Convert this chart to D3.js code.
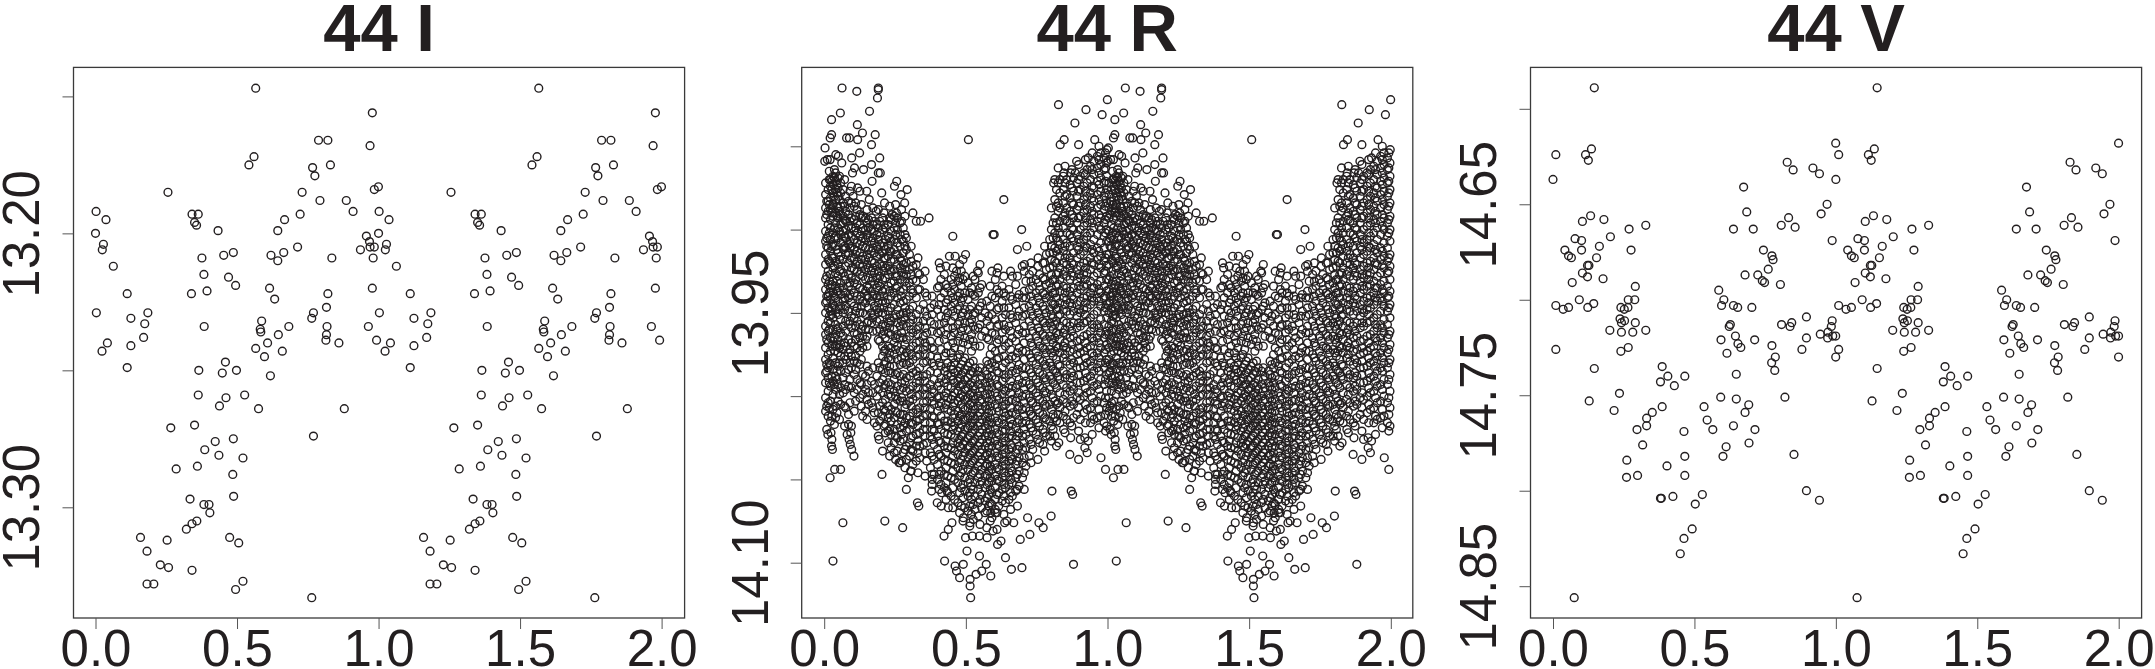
<!DOCTYPE html>
<html><head><meta charset="utf-8">
<script src="https://cdn.jsdelivr.net/npm/d3@7/dist/d3.min.js"></script>
<style>html,body{margin:0;padding:0;background:#fff;overflow:hidden}svg{display:block}</style>
</head><body><svg id="c" width="2155" height="669"></svg>
<script>
const xTicks=[0,0.5,1,1.5,2];
const titles=["44 I","44 R","44 V"];
const yTicksI=[13.15,13.20,13.25,13.30];
const yLabelsI=[13.20,13.30];
const yTicksR=[13.85,13.90,13.95,14.00,14.05,14.10];
const yLabelsR=[13.95,14.10];
const yTicksV=[14.60,14.65,14.70,14.75,14.80,14.85];
const yLabelsV=[14.65,14.75,14.85];
const pointsI=[[.002,13.192],[.037,13.195],[0,13.2],[.028,13.204],[.024,13.206],[.063,13.212],[.112,13.222],[.003,13.229],[.185,13.229],[.125,13.231],[.174,13.233],[.17,13.238],[.042,13.24],[.023,13.243],[.125,13.241],[.112,13.249],[.256,13.185],[.341,13.193],[.363,13.193],[.35,13.196],[.357,13.197],[.433,13.199],[.453,13.208],[.487,13.207],[.376,13.209],[.383,13.215],[.47,13.216],[.495,13.219],[.339,13.222],[.394,13.221],[.384,13.234],[.365,13.25],[.459,13.247],[.448,13.251],[.498,13.25],[.363,13.259],[.461,13.26],[.527,13.259],[.438,13.263],[.576,13.264],[.35,13.27],[.266,13.271],[.423,13.276],[.487,13.275],[.386,13.279],[.436,13.281],[.521,13.282],[.285,13.286],[.36,13.285],[.485,13.288],[.488,13.296],[.334,13.297],[.383,13.299],[.401,13.299],[.404,13.302],[.358,13.305],[.341,13.306],[.321,13.308],[.159,13.311],[.253,13.312],[.474,13.311],[.506,13.313],[.182,13.316],[.229,13.321],[.258,13.322],[.341,13.323],[.182,13.328],[.206,13.328],[.521,13.327],[.495,13.33],[.764,13.333],[.566,13.147],[.56,13.172],[.542,13.175],[.788,13.166],[.821,13.166],[.83,13.175],[.767,13.176],[.775,13.179],[.73,13.185],[.793,13.188],[.723,13.193],[.668,13.195],[.644,13.199],[.714,13.205],[.665,13.207],[.62,13.208],[.644,13.21],[.835,13.209],[.615,13.22],[.633,13.224],[.821,13.222],[.816,13.227],[.77,13.229],[.764,13.231],[.587,13.232],[.582,13.235],[.584,13.236],[.683,13.234],[.818,13.234],[.646,13.237],[.816,13.237],[.814,13.239],[.608,13.24],[.86,13.24],[.566,13.242],[.66,13.243],[.597,13.245],[.618,13.252],[.879,13.264],[.77,13.274],[.886,13.188],[.91,13.192],[.978,13.156],[.97,13.168],[.985,13.184],[.9995,13.183],[.957,13.201],[.968,13.203],[.97,13.205],[.985,13.205],[.936,13.206],[.981,13.209],[.978,13.22],[.964,13.234],[.993,13.239]];
const pointsV=[[0,14.637],[.01,14.624],[.115,14.624],[.125,14.627],[.136,14.621],[.146,14.589],[.133,14.656],[.104,14.659],[.18,14.658],[.203,14.667],[.078,14.668],[.101,14.669],[.164,14.672],[.042,14.674],[.101,14.674],[.055,14.677],[.065,14.678],[.154,14.678],[.122,14.682],[.127,14.682],[.104,14.686],[.122,14.688],[.177,14.689],[.068,14.691],[.269,14.663],[.328,14.661],[.276,14.674],[.291,14.693],[.093,14.7],[.266,14.7],[.289,14.7],[.01,14.703],[.144,14.702],[.036,14.705],[.055,14.704],[.123,14.704],[.24,14.704],[.265,14.704],[.252,14.705],[.237,14.71],[.253,14.711],[.242,14.712],[.291,14.712],[.201,14.716],[.242,14.717],[.282,14.717],[.328,14.716],[.01,14.726],[.24,14.727],[.266,14.725],[.146,14.736],[.128,14.753],[.235,14.749],[.216,14.758],[.386,14.735],[.406,14.74],[.38,14.743],[.429,14.745],[.466,14.74],[.386,14.756],[.351,14.759],[.331,14.762],[.331,14.766],[.297,14.768],[.317,14.776],[.261,14.784],[.26,14.793],[.299,14.792],[.403,14.787],[.463,14.769],[.466,14.782],[.466,14.792],[.38,14.804],[.383,14.804],[.424,14.803],[.503,14.807],[.528,14.802],[.492,14.82],[.463,14.825],[.45,14.833],[.075,14.856],[.534,14.756],[.545,14.763],[.565,14.768],[.593,14.751],[.648,14.752],[.692,14.755],[.679,14.759],[.638,14.766],[.714,14.768],[.693,14.775],[.612,14.777],[.601,14.782],[.586,14.695],[.604,14.7],[.596,14.703],[.638,14.703],[.653,14.704],[.703,14.704],[.623,14.714],[.627,14.713],[.645,14.719],[.594,14.721],[.713,14.721],[.654,14.723],[.664,14.725],[.615,14.728],[.648,14.739],[.674,14.641],[.685,14.654],[.638,14.663],[.708,14.663],[.744,14.674],[.774,14.677],[.778,14.679],[.761,14.684],[.679,14.687],[.724,14.687],[.74,14.69],[.748,14.691],[.804,14.692],[.807,14.661],[.833,14.657],[.856,14.662],[.828,14.628],[.849,14.632],[.919,14.631],[.942,14.634],[.9995,14.618],[.969,14.65],[.948,14.655],[.987,14.669],[.808,14.713],[.844,14.712],[.838,14.714],[.896,14.709],[.774,14.724],[.896,14.72],[.786,14.73],[.773,14.733],[.784,14.737],[.88,14.726],[.945,14.718],[.972,14.717],[.987,14.711],[.984,14.714],[.971,14.72],[.989,14.719],[.9995,14.719],[.9995,14.73],[.82,14.751],[.852,14.781],[.896,14.8],[.942,14.805]];
const outliersR=[[.063,13.815],[.115,13.817],[.191,13.815],[.191,13.816],[.188,13.821],[.16,13.829],[.057,13.83],[.026,13.834],[.117,13.837],[.026,13.843],[.021,13.845],[.079,13.845],[.089,13.845],[.118,13.846],[.135,13.842],[.18,13.843],[.003,13.851],[.167,13.849],[.125,13.854],[.097,13.857],[.041,13.855],[.05,13.856],[.196,13.857],[.011,13.858],[.021,13.858],[.002,13.859],[.062,13.86],[.167,13.861],[.139,13.864],[.107,13.863],[.1,13.866],[.191,13.866],[.198,13.866],[.256,13.871],[.248,13.874],[.293,13.876],[.271,13.879],[.284,13.884],[.169,13.871],[.096,13.874],[.118,13.875],[.126,13.877],[.15,13.877],[.102,13.88],[.159,13.882],[.203,13.878],[.213,13.884],[.183,13.889],[.24,13.891],[.313,13.89],[.325,13.895],[.34,13.895],[.37,13.893],[.255,13.89],[.454,13.904],[.596,13.903],[.6,13.903],[.634,13.882],[.509,13.846],[.697,13.9],[.682,13.912],[.715,13.91],[.499,13.915],[.442,13.916],[.462,13.916],[.41,13.923],[.467,13.925],[.613,13.923],[.592,13.925],[.541,13.925],[.699,13.922],[.707,13.921],[.755,13.917],[.827,13.825],[.9995,13.822],[.924,13.828],[.981,13.831],[.885,13.836],[.955,13.846],[.833,13.849],[.847,13.846],[.898,13.849],[.998,13.852],[.932,13.857],[.891,13.859],[.846,13.866],[.87,13.866],[.886,13.866],[.81,13.872],[.031,14.099],[.021,14.049],[.037,14.044],[.058,14.044],[.066,14.076],[.214,14.075],[.277,14.079],[.204,14.047],[.206,14.033],[.194,14.026],[.026,14.03],[.029,14.032],[.013,14.023],[.024,14.022],[.094,14.022],[.081,14.023],[.088,14.026],[.092,14.029],[.097,14.032],[.105,14.036],[.264,14.04],[.268,14.04],[.305,14.045],[.297,14.049],[.29,14.056],[.329,14.064],[.334,14.066],[.381,14.05],[.379,14.057],[.399,14.064],[.415,14.058],[.434,14.057],[.413,14.066],[.438,14.067],[.423,14.084],[.438,14.08],[.451,14.076],[.425,14.099],[.462,14.102],[.467,14.105],[.478,14.109],[.491,14.101],[.504,14.093],[.515,14.11],[.515,14.114],[.517,14.121],[.536,14.107],[.548,14.096],[.556,14.105],[.572,14.101],[.588,14.108],[.64,14.097],[.661,14.104],[.698,14.103],[.88,14.101],[.804,14.057],[.801,14.072],[.872,14.057],[.877,14.059],[.773,14.079],[.758,14.076],[.726,14.083],[.692,14.086],[.718,14.073],[.669,14.076],[.645,14.075],[.523,14.084],[.499,14.085],[.515,14.076],[.491,14.073],[.548,14.084],[.575,14.085],[.596,14.081],[.612,14.089],[.624,14.087],[.637,14.076],[.604,14.07],[.588,14.07],[.932,14.027],[.92,14.025],[.92,14.031],[.928,14.034],[.977,14.037],[.993,14.044],[.867,14.035],[.898,14.038],[.904,14.026],[.87,14.025],[.82,14.03],[.828,14.028],[.845,14.02]];
const columnsR=[
[.005,[13.872,13.879,13.887,13.893,13.901,13.907,13.915,13.921,13.93,13.936,13.944,13.95,13.958,13.963,13.971,13.978,13.986,13.992,14.001,14.009]],
[.014,[13.876,13.883,13.889,13.897,13.904,13.911,13.918,13.925,13.933,13.94,13.947,13.955,13.961,13.968,13.975,13.983,13.989,13.997,14.004,14.012]],
[.022,[13.87,13.874,13.881,13.888,13.894,13.899,13.906,13.913,13.92,13.927,13.935,13.942,13.949,13.956,13.965,13.973,13.981,13.994,14.003,14.015]],
[.031,[13.868,13.873,13.878,13.885,13.892,13.902,13.909,13.917,13.923,13.931,13.938,13.945,13.953,13.96,13.967,13.977,13.984,13.991,13.999,14.008]],
[.04,[13.866,13.871,13.876,13.882,13.89,13.896,13.904,13.91,13.919,13.926,13.934,13.941,13.948,13.957,13.963,13.97,13.98,13.988,13.996,14.006,14.013]],
[.049,[13.869,13.875,13.88,13.887,13.893,13.899,13.905,13.914,13.921,13.928,13.937,13.943,13.951,13.959,13.966,13.974,13.982,13.993,14.003]],
[.058,[13.872,13.878,13.886,13.891,13.897,13.903,13.908,13.916,13.924,13.932,13.939,13.946,13.954,13.962,13.969,13.976,13.985,13.995,14.005]],
[.067,[13.876,13.884,13.892,13.896,13.901,13.907,13.912,13.918,13.926,13.935,13.943,13.95,13.958,13.964,13.972,13.98,13.989,13.998]],
[.076,[13.88,13.889,13.895,13.9,13.905,13.911,13.915,13.922,13.93,13.938,13.946,13.955,13.961,13.97,13.978,13.986,13.996,14.007]],
[.086,[13.883,13.891,13.898,13.903,13.909,13.914,13.92,13.927,13.934,13.941,13.949,13.957,13.966,13.974,13.984,13.994,14.011,14.017]],
[.096,[13.884,13.893,13.899,13.904,13.91,13.917,13.923,13.929,13.936,13.944,13.952,13.959,13.968,13.976,13.983,13.995,14.018]],
[.106,[13.886,13.894,13.901,13.906,13.912,13.918,13.924,13.932,13.938,13.946,13.953,13.962,13.97,13.979,13.987,13.998,14.009]],
[.116,[13.888,13.896,13.902,13.908,13.913,13.919,13.925,13.933,13.94,13.947,13.955,13.963,13.971,13.98,13.99,13.996]],
[.126,[13.891,13.897,13.904,13.909,13.914,13.921,13.927,13.935,13.942,13.95,13.957,13.965,13.973,13.981,13.992,14.001]],
[.136,[13.892,13.899,13.905,13.91,13.916,13.922,13.928,13.936,13.943,13.95,13.958,13.964,13.971,13.987,13.999,14.012]],
[.146,[13.893,13.9,13.906,13.911,13.918,13.924,13.93,13.937,13.944,13.951,13.96,13.966,13.988,13.996,14.009]],
[.156,[13.894,13.899,13.905,13.912,13.917,13.923,13.929,13.935,13.941,13.947,13.955,13.96,13.985,13.998,14.005]],
[.167,[13.893,13.9,13.907,13.913,13.919,13.925,13.931,13.937,13.943,13.95,13.956,13.991,14.004]],
[.177,[13.895,13.901,13.908,13.914,13.92,13.926,13.933,13.939,13.946,13.951,13.993,14.01,14.016]],
[.186,[13.897,13.903,13.91,13.916,13.922,13.929,13.935,13.941,13.948,13.955,13.961,13.988,14.0,14.018]],
[.196,[13.895,13.902,13.909,13.915,13.921,13.928,13.934,13.94,13.947,13.954,13.96,13.967,13.983,13.992,14.006,14.015]],
[.206,[13.893,13.9,13.908,13.914,13.922,13.93,13.937,13.943,13.95,13.957,13.963,13.97,13.976,13.984,13.99,13.998,14.004,14.012]],
[.216,[13.899,13.906,13.912,13.917,13.923,13.929,13.936,13.944,13.951,13.958,13.965,13.972,13.979,13.986,13.993,14.002,14.009,14.017,14.022]],
[.226,[13.897,13.904,13.91,13.916,13.922,13.927,13.934,13.942,13.949,13.956,13.962,13.97,13.977,13.985,13.992,13.999,14.006,14.013,14.021,14.028]],
[.236,[13.894,13.901,13.907,13.913,13.919,13.925,13.932,13.94,13.947,13.955,13.963,13.971,13.978,13.986,13.993,14.0,14.008,14.015,14.023,14.031]],
[.247,[13.892,13.899,13.906,13.912,13.918,13.924,13.931,13.938,13.945,13.953,13.96,13.968,13.975,13.982,13.99,13.997,14.005,14.013,14.02,14.028,14.034]],
[.258,[13.893,13.9,13.908,13.915,13.921,13.928,13.934,13.941,13.948,13.956,13.963,13.97,13.978,13.986,13.994,14.002,14.01,14.017,14.025,14.033]],
[.268,[13.896,13.903,13.91,13.917,13.923,13.93,13.937,13.944,13.951,13.958,13.965,13.973,13.981,13.988,13.996,14.003,14.011,14.019,14.027]],
[.279,[13.899,13.907,13.914,13.921,13.928,13.936,13.943,13.95,13.957,13.965,13.972,13.98,13.987,13.995,14.003,14.011,14.018,14.026,14.034]],
[.29,[13.905,13.912,13.92,13.927,13.934,13.942,13.95,13.958,13.966,13.974,13.981,13.989,13.997,14.005,14.013,14.021,14.03,14.038]],
[.301,[13.915,13.924,13.932,13.94,13.948,13.956,13.964,13.972,13.98,13.988,13.996,14.003,14.012,14.02,14.028,14.036]],
[.313,[13.922,13.93,13.938,13.946,13.954,13.962,13.97,13.978,13.986,13.994,14.002,14.01,14.017,14.024,14.033,14.041]],
[.325,[13.921,13.931,13.941,13.951,13.96,13.968,13.976,13.985,13.992,14.0,14.008,14.015,14.023,14.03,14.039]],
[.337,[13.927,13.936,13.948,13.958,13.967,13.975,13.983,13.991,13.999,14.007,14.014,14.022,14.03,14.037]],
[.35,[13.93,13.945,13.955,13.964,13.972,13.98,13.988,13.996,14.004,14.012,14.02,14.029]],
[.362,[13.94,13.952,13.962,13.97,13.979,13.987,13.995,14.003,14.011,14.02,14.028,14.039]],
[.375,[13.947,13.955,13.967,13.976,13.985,13.993,14.0,14.008,14.016,14.024,14.034,14.043]],
[.388,[13.945,13.957,13.972,13.982,13.99,13.998,14.005,14.013,14.021,14.029,14.038,14.047]],
[.4,[13.935,13.948,13.962,13.977,13.986,13.994,14.001,14.009,14.016,14.024,14.032,14.041,14.05]],
[.412,[13.93,13.941,13.952,13.961,13.972,13.982,13.989,13.996,14.004,14.012,14.02,14.028,14.036,14.045,14.053]],
[.424,[13.927,13.938,13.948,13.956,13.966,13.976,13.985,13.992,14.0,14.007,14.015,14.022,14.03,14.038,14.047,14.055]],
[.436,[13.935,13.942,13.95,13.959,13.97,13.98,13.987,13.994,14.001,14.008,14.015,14.023,14.031,14.039,14.048,14.058]],
[.448,[13.93,13.938,13.946,13.955,13.964,13.974,13.982,13.988,13.995,14.002,14.009,14.016,14.023,14.031,14.04,14.049,14.06]],
[.46,[13.928,13.936,13.944,13.952,13.962,13.971,13.98,13.986,13.992,13.998,14.004,14.011,14.018,14.025,14.033,14.041,14.05,14.062]],
[.472,[13.931,13.94,13.948,13.957,13.967,13.977,13.985,13.991,13.997,14.003,14.009,14.015,14.021,14.028,14.035,14.043,14.052,14.064]],
[.484,[13.925,13.934,13.943,13.952,13.961,13.972,13.981,13.987,13.993,13.999,14.005,14.011,14.017,14.024,14.031,14.038,14.046,14.055,14.066]],
[.496,[13.928,13.938,13.948,13.956,13.965,13.977,13.984,13.99,13.996,14.002,14.008,14.014,14.02,14.027,14.034,14.041,14.049,14.057,14.067]],
[.508,[13.932,13.942,13.951,13.96,13.969,13.982,13.989,13.995,14.001,14.007,14.013,14.019,14.025,14.031,14.037,14.044,14.052,14.06,14.069]],
[.52,[13.935,13.946,13.954,13.963,13.973,13.985,13.992,13.998,14.004,14.01,14.016,14.022,14.028,14.034,14.04,14.047,14.054,14.062,14.071]],
[.532,[13.93,13.94,13.95,13.96,13.97,13.983,13.99,13.996,14.002,14.008,14.014,14.02,14.026,14.032,14.038,14.045,14.052,14.06,14.068]],
[.544,[13.926,13.938,13.948,13.959,13.985,13.993,14.0,14.006,14.012,14.018,14.024,14.03,14.036,14.042,14.049,14.056,14.064,14.072]],
[.556,[13.933,13.944,13.953,13.964,13.988,13.995,14.002,14.008,14.014,14.02,14.026,14.032,14.038,14.044,14.051,14.059,14.067]],
[.568,[13.95,13.961,13.985,13.992,13.999,14.006,14.012,14.018,14.024,14.03,14.036,14.042,14.048,14.055,14.063,14.07]],
[.58,[13.952,13.966,13.981,13.989,13.996,14.003,14.01,14.017,14.024,14.031,14.038,14.045,14.052,14.059,14.066]],
[.592,[13.94,13.951,13.962,13.971,13.98,13.988,13.995,14.002,14.009,14.016,14.023,14.03,14.037,14.044,14.051,14.058,14.065,14.073]],
[.604,[13.93,13.941,13.954,13.963,13.973,13.982,13.99,13.998,14.005,14.013,14.02,14.027,14.034,14.041,14.048,14.055,14.062,14.068]],
[.616,[13.938,13.947,13.957,13.966,13.977,13.986,13.994,14.002,14.009,14.016,14.023,14.03,14.037,14.044,14.051,14.058,14.066]],
[.628,[13.934,13.943,13.953,13.962,13.972,13.983,13.991,13.999,14.006,14.014,14.021,14.028,14.035,14.042,14.049,14.056,14.063]],
[.64,[13.94,13.951,13.96,13.97,13.98,13.989,13.997,14.005,14.012,14.02,14.027,14.034,14.041,14.048,14.055,14.064]],
[.652,[13.936,13.947,13.958,13.968,13.978,13.987,13.995,14.003,14.011,14.018,14.025,14.032,14.039,14.046,14.053,14.062]],
[.664,[13.928,13.942,13.953,13.965,13.976,13.985,13.994,14.002,14.01,14.017,14.024,14.031,14.038,14.045,14.052,14.06]],
[.676,[13.933,13.945,13.956,13.967,13.977,13.986,13.995,14.003,14.011,14.019,14.026,14.034,14.041,14.049,14.057]],
[.688,[13.939,13.949,13.96,13.971,13.981,13.99,13.998,14.006,14.014,14.022,14.03,14.037,14.045,14.054]],
[.7,[13.941,13.952,13.962,13.973,13.983,13.992,14.0,14.008,14.016,14.024,14.032,14.04,14.049]],
[.712,[13.931,13.941,13.951,13.962,13.973,13.983,13.991,13.999,14.007,14.015,14.023,14.031,14.042]],
[.724,[13.927,13.936,13.946,13.955,13.965,13.975,13.984,13.993,14.001,14.009,14.017,14.026,14.036]],
[.736,[13.925,13.934,13.943,13.952,13.961,13.97,13.979,13.988,13.996,14.004,14.012,14.021,14.032]],
[.748,[13.93,13.938,13.947,13.955,13.964,13.973,13.981,13.99,13.998,14.006,14.014,14.023]],
[.76,[13.927,13.936,13.944,13.953,13.961,13.97,13.978,13.986,13.994,14.002,14.01,14.018,14.028]],
[.772,[13.92,13.929,13.938,13.946,13.955,13.963,13.971,13.979,13.987,13.995,14.003,14.011,14.02,14.029]],
[.784,[13.915,13.924,13.933,13.941,13.95,13.958,13.966,13.974,13.982,13.99,13.998,14.006,14.014,14.024]],
[.796,[13.906,13.914,13.923,13.932,13.94,13.948,13.956,13.964,13.972,13.98,13.988,13.996,14.005,14.015,14.024]],
[.808,[13.896,13.905,13.914,13.922,13.93,13.938,13.945,13.953,13.96,13.968,13.976,13.984,13.992,14.001,14.011,14.02]],
[.82,[13.876,13.886,13.896,13.905,13.913,13.92,13.927,13.934,13.941,13.948,13.955,13.962,13.97,13.978,13.986,13.995,14.005,14.015]],
[.832,[13.87,13.878,13.887,13.895,13.902,13.909,13.916,13.923,13.93,13.937,13.944,13.951,13.958,13.966,13.974,13.982,13.99,13.998,14.007,14.016]],
[.844,[13.868,13.876,13.884,13.892,13.899,13.906,13.913,13.92,13.927,13.934,13.941,13.948,13.955,13.962,13.97,13.977,13.985,13.993,14.002,14.012]],
[.856,[13.87,13.879,13.887,13.895,13.902,13.908,13.915,13.921,13.928,13.935,13.942,13.949,13.956,13.963,13.971,13.979,13.987,13.995,14.004,14.014]],
[.868,[13.873,13.881,13.889,13.896,13.903,13.91,13.917,13.923,13.93,13.937,13.944,13.951,13.958,13.965,13.973,13.981,13.989,13.997,14.006,14.016]],
[.88,[13.869,13.877,13.885,13.893,13.9,13.907,13.914,13.921,13.928,13.935,13.942,13.949,13.956,13.964,13.972,13.98,13.988,13.996,14.005,14.013]],
[.892,[13.872,13.88,13.888,13.896,13.903,13.91,13.917,13.924,13.931,13.938,13.945,13.952,13.959,13.967,13.975,13.983,13.992,14.001,14.011]],
[.904,[13.868,13.876,13.884,13.892,13.9,13.908,13.915,13.922,13.929,13.936,13.943,13.95,13.958,13.966,13.974,13.983,13.992,14.002,14.014]],
[.916,[13.866,13.874,13.882,13.89,13.898,13.906,13.913,13.92,13.927,13.934,13.941,13.948,13.956,13.964,13.973,13.982,13.991,14.0,14.01]],
[.928,[13.864,13.872,13.88,13.888,13.896,13.904,13.911,13.919,13.926,13.933,13.94,13.947,13.955,13.963,13.971,13.98,13.989,13.998,14.008]],
[.94,[13.862,13.87,13.878,13.886,13.894,13.902,13.909,13.917,13.924,13.931,13.938,13.945,13.953,13.961,13.97,13.979,13.988,13.997,14.007,14.016]],
[.952,[13.859,13.867,13.875,13.883,13.891,13.899,13.906,13.914,13.921,13.928,13.935,13.943,13.951,13.959,13.967,13.976,13.985,13.994,14.004,14.014]],
[.964,[13.856,13.863,13.871,13.879,13.887,13.895,13.903,13.911,13.918,13.926,13.933,13.941,13.949,13.957,13.965,13.974,13.983,13.993,14.003,14.013]],
[.976,[13.854,13.861,13.869,13.877,13.885,13.893,13.9,13.908,13.916,13.923,13.931,13.938,13.946,13.954,13.962,13.971,13.98,13.99,14.0,14.012]],
[.988,[13.857,13.864,13.872,13.88,13.888,13.896,13.904,13.911,13.919,13.926,13.934,13.941,13.949,13.957,13.965,13.974,13.983,13.993,14.004,14.016]],
[.997,[13.86,13.868,13.876,13.884,13.892,13.9,13.907,13.915,13.922,13.93,13.937,13.945,13.953,13.961,13.969,13.978,13.987,13.997,14.007,14.018]]
];
const columnsR2=[
[.009,[13.883,13.891,13.905,13.91,13.928,13.94,13.943,13.966,13.981,13.985,14.006,14.02]],
[.018,[13.865,13.87,13.885,13.902,13.919,13.931,13.938,13.952,13.96,13.98,13.992,14.007]],
[.027,[13.871,13.876,13.887,13.89,13.91,13.916,13.933,13.947,13.951,13.97,13.988,14.012,14.026]],
[.036,[13.864,13.869,13.88,13.899,13.905,13.922,13.94,13.946,13.965,13.973,13.993,14.017]],
[.045,[13.873,13.878,13.886,13.892,13.912,13.931,13.937,13.96,13.969,13.985,13.99,14.01]],
[.054,[13.868,13.882,13.889,13.901,13.918,13.925,13.935,13.948,13.971,13.98,13.999,14.014]],
[.072,[13.87,13.886,13.894,13.904,13.91,13.928,13.941,13.948,13.968,13.976,13.993,14.006,14.018]],
[.091,[13.877,13.887,13.895,13.907,13.911,13.932,13.939,13.955,13.972,13.98,13.99,14.004]],
[.111,[13.884,13.892,13.899,13.915,13.921,13.93,13.949,13.958,13.966,13.976,13.984,14.003]],
[.131,[13.885,13.893,13.901,13.907,13.918,13.925,13.94,13.946,13.96,13.968,13.978,13.993,14.006]],
[.151,[13.888,13.896,13.903,13.915,13.921,13.934,13.94,13.956,13.964,13.97,13.982,13.993,14.002,14.014]],
[.172,[13.887,13.897,13.905,13.911,13.923,13.929,13.94,13.953,13.961,13.983,13.998,14.007]],
[.191,[13.888,13.899,13.906,13.912,13.925,13.932,13.944,13.95,13.966,13.98,13.996,14.01,14.024]],
[.211,[13.89,13.897,13.91,13.917,13.925,13.94,13.947,13.961,13.973,13.981,13.995,14.008,14.018]],
[.231,[13.886,13.893,13.905,13.913,13.924,13.937,13.953,13.959,13.974,13.982,13.996,14.011,14.02,14.036]],
[.252,[13.885,13.896,13.903,13.915,13.928,13.935,13.951,13.965,13.972,13.987,14.0,14.009,14.024,14.038]],
[.273,[13.888,13.895,13.906,13.919,13.926,13.94,13.955,13.962,13.977,13.992,14.001,14.015,14.023,14.039]],
[.285,[13.892,13.903,13.91,13.924,13.931,13.947,13.953,13.969,13.976,13.991,14.007,14.016,14.032,14.043]],
[.307,[13.91,13.919,13.927,13.936,13.952,13.96,13.975,13.983,13.999,14.006,14.016,14.025,14.032,14.045]],
[.331,[13.917,13.926,13.936,13.955,13.963,13.972,13.988,13.995,14.01,14.018,14.027,14.034,14.046]],
[.356,[13.925,13.938,13.949,13.959,13.968,13.975,13.991,13.999,14.007,14.016,14.024,14.034,14.048]],
[.381,[13.94,13.951,13.961,13.971,13.98,13.996,14.003,14.012,14.02,14.026,14.036,14.047,14.053]],
[.406,[13.92,13.934,13.945,13.957,13.967,13.98,13.992,14.0,14.006,14.017,14.027,14.035,14.047,14.056]],
[.43,[13.922,13.933,13.944,13.953,13.963,13.974,13.983,13.99,13.998,14.005,14.018,14.027,14.034,14.043,14.052,14.062]],
[.454,[13.923,13.933,13.941,13.949,13.959,13.968,13.977,13.984,13.99,14.0,14.006,14.013,14.02,14.028,14.036,14.045,14.055,14.067]],
[.478,[13.921,13.929,13.938,13.946,13.955,13.964,13.975,13.983,13.989,13.994,14.001,14.012,14.019,14.026,14.03,14.04,14.048,14.058,14.07]],
[.49,[13.918,13.93,13.941,13.95,13.959,13.968,13.979,13.986,13.993,14.0,14.007,14.014,14.023,14.029,14.036,14.044,14.053,14.061,14.075]],
[.514,[13.938,13.948,13.956,13.966,13.98,13.987,13.993,13.999,14.005,14.012,14.018,14.024,14.03,14.035,14.041,14.05,14.058,14.066,14.078]],
[.526,[13.928,13.939,13.951,13.958,13.967,13.979,13.986,13.994,14.0,14.006,14.012,14.018,14.027,14.033,14.039,14.046,14.056,14.065,14.074]],
[.55,[13.921,13.935,13.946,13.957,13.97,13.983,13.99,13.997,14.003,14.01,14.016,14.022,14.028,14.034,14.04,14.047,14.053,14.062,14.077]],
[.574,[13.943,13.955,13.965,13.979,13.987,13.994,14.001,14.008,14.015,14.022,14.028,14.035,14.041,14.047,14.053,14.061,14.069,14.079]],
[.586,[13.934,13.946,13.958,13.975,13.983,13.992,13.999,14.006,14.013,14.02,14.027,14.034,14.042,14.049,14.056,14.064,14.075]],
[.61,[13.926,13.936,13.948,13.958,13.968,13.978,13.985,13.993,14.0,14.007,14.015,14.022,14.029,14.036,14.043,14.05,14.059,14.07,14.08]],
[.634,[13.928,13.938,13.947,13.957,13.966,13.976,13.987,13.996,14.003,14.01,14.017,14.025,14.032,14.039,14.046,14.053,14.06,14.071]],
[.658,[13.925,13.94,13.951,13.961,13.972,13.982,13.991,13.998,14.007,14.014,14.021,14.029,14.036,14.043,14.05,14.058,14.068]],
[.682,[13.928,13.941,13.952,13.963,13.974,13.984,13.993,14.001,14.008,14.016,14.024,14.032,14.039,14.047,14.056,14.066]],
[.706,[13.925,13.937,13.947,13.958,13.968,13.978,13.988,13.996,14.004,14.012,14.02,14.028,14.037,14.046,14.056]],
[.73,[13.92,13.931,13.94,13.949,13.958,13.968,13.977,13.986,13.995,14.003,14.011,14.019,14.029,14.04]],
[.754,[13.922,13.932,13.941,13.95,13.959,13.967,13.976,13.984,13.992,14.0,14.008,14.016,14.026,14.038]],
[.778,[13.91,13.92,13.93,13.939,13.948,13.956,13.964,13.972,13.981,13.989,13.997,14.005,14.013,14.022,14.033]],
[.802,[13.887,13.9,13.91,13.918,13.927,13.935,13.943,13.951,13.958,13.966,13.974,13.982,13.99,13.999,14.008,14.018,14.027]],
[.814,[13.87,13.882,13.893,13.902,13.911,13.919,13.93,13.938,13.945,13.957,13.965,13.973,13.985,13.993,14.003,14.013,14.024]],
[.826,[13.863,13.872,13.884,13.889,13.899,13.907,13.912,13.926,13.933,13.947,13.952,13.963,13.971,13.981,13.988,14.004,14.011]],
[.85,[13.862,13.872,13.88,13.89,13.894,13.91,13.917,13.925,13.938,13.945,13.96,13.968,13.975,13.989,13.999,14.009,14.022]],
[.874,[13.864,13.875,13.884,13.891,13.899,13.905,13.92,13.926,13.94,13.946,13.961,13.969,13.978,13.986,13.994,14.003,14.018]],
[.898,[13.861,13.87,13.877,13.886,13.893,13.906,13.912,13.927,13.934,13.948,13.956,13.971,13.979,13.987,13.998,14.007,14.021]],
[.922,[13.858,13.867,13.877,13.885,13.893,13.902,13.91,13.923,13.93,13.944,13.951,13.968,13.977,13.986,13.995,14.005,14.016]],
[.946,[13.854,13.864,13.874,13.881,13.889,13.896,13.912,13.92,13.935,13.941,13.957,13.965,13.974,13.982,13.991,14.001,14.012,14.023]],
[.97,[13.85,13.858,13.866,13.873,13.882,13.891,13.898,13.913,13.921,13.936,13.943,13.959,13.968,13.977,13.985,13.996,14.008,14.019]],
[.993,[13.854,13.863,13.871,13.878,13.886,13.894,13.902,13.917,13.925,13.94,13.947,13.963,13.972,13.98,13.99,14.001,14.011,14.021]]
];
const pointsR=outliersR.concat(columnsR.concat(columnsR2).flatMap(([p,ms])=>ms.map(m=>[p,m])));

const panels=[
 {title:titles[0],pts:pointsI,yt:yTicksI,yl:yLabelsI,left:73.5,right:684.6,x0:95.5,x2:661.6,yd:[13.15,13.30],yr:[96.4,507.3]},
 {title:titles[1],pts:pointsR,yt:yTicksR,yl:yLabelsR,left:801.7,right:1412.8,x0:824.2,x2:1390.8,yd:[13.85,14.10],yr:[146.3,562.7]},
 {title:titles[2],pts:pointsV,yt:yTicksV,yl:yLabelsV,left:1530.5,right:2141.6,x0:1553,x2:2118.7,yd:[14.60,14.85],yr:[108.8,586.2]}
];
const TOP=67.4,BOTTOM=618,INK="#231f20",FONT="'Liberation Sans',Arial,sans-serif";
const svg=d3.select("#c");
panels.forEach(p=>{
 const g=svg.append("g");
 const x=d3.scaleLinear().domain([0,2]).range([p.x0,p.x2]);
 const y=d3.scaleLinear().domain(p.yd).range(p.yr);
 const shown=p.pts.concat(p.pts.map(d=>[d[0]+1,d[1]]));
 g.append("g").selectAll("circle").data(shown).join("circle")
  .attr("cx",d=>x(d[0])).attr("cy",d=>y(d[1])).attr("r",3.9)
  .attr("fill","none").attr("stroke",INK).attr("stroke-width",1.4);
 g.append("rect").attr("x",p.left).attr("y",TOP).attr("width",p.right-p.left).attr("height",BOTTOM-TOP)
  .attr("fill","none").attr("stroke","#3a3a3a").attr("stroke-width",1.3);
 const ax=g.append("g").attr("transform",`translate(0,${BOTTOM})`)
  .call(d3.axisBottom(x).tickValues(xTicks).tickFormat(d3.format(".1f")).tickSize(11));
 ax.select(".domain").remove();
 ax.selectAll(".tick line").attr("stroke","#555").attr("stroke-width",1);
 ax.selectAll(".tick text").attr("y",47.5).attr("dy",0).attr("fill",INK)
  .style("font",`51px ${FONT}`);
 const ay=g.append("g").attr("transform",`translate(${p.left},0)`)
  .call(d3.axisLeft(y).tickValues(p.yt).tickFormat(d=>p.yl.some(v=>Math.abs(v-d)<1e-9)?d3.format(".2f")(d):"").tickSize(11));
 ay.select(".domain").remove();
 ay.selectAll(".tick line").attr("stroke","#555").attr("stroke-width",1);
 ay.selectAll(".tick text").attr("x",0).attr("y",0).attr("dy",0)
  .attr("transform","translate(-34.2,0) rotate(-90)").attr("text-anchor","middle").attr("fill",INK)
  .style("font",`51px ${FONT}`);
 g.append("text").attr("x",(p.left+p.right)/2).attr("y",51.2).attr("text-anchor","middle")
  .attr("fill",INK).style("font",`bold 67px ${FONT}`).text(p.title);
});
</script></body></html>
